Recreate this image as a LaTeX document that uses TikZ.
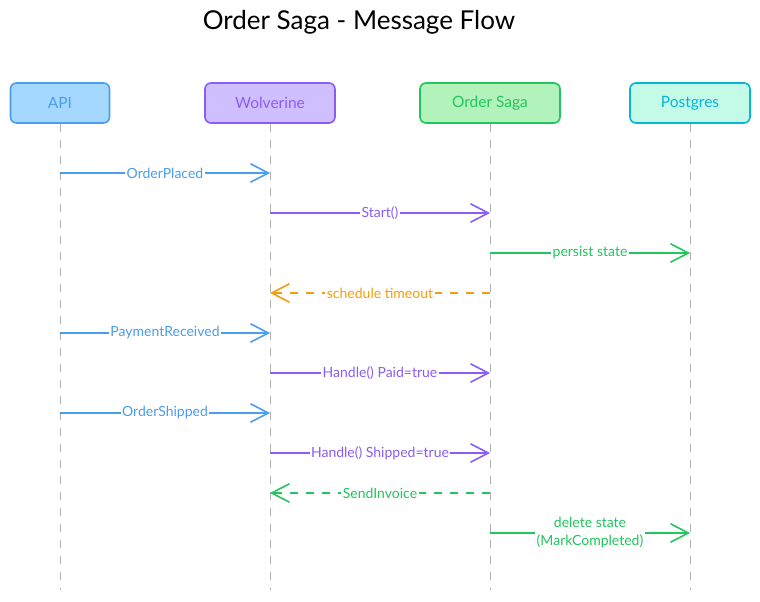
\documentclass[tikz,border=0pt]{standalone}
\usepackage{fontspec}
\setmainfont{Lato}
\usetikzlibrary{arrows.meta}
\definecolor{cblue}{HTML}{4A9EED}
\definecolor{fblue}{HTML}{A5D8FF}
\definecolor{cpurp}{HTML}{8B5CF6}
\definecolor{fpurp}{HTML}{D0BFFF}
\definecolor{cgreen}{HTML}{22C55E}
\definecolor{fgreen}{HTML}{B2F2BB}
\definecolor{ccyan}{HTML}{06B6D4}
\definecolor{fcyan}{HTML}{C3FAE8}
\definecolor{corange}{HTML}{F59E0B}
\definecolor{cgray}{HTML}{B0B0B0}
\tikzset{
  x=1pt,y=-1pt,
  actor/.style={draw=#1, line width=1.6pt, rounded corners=6pt, minimum height=40pt, font=\fontsize{15.5}{18}\selectfont, text=#1},
  life/.style={draw=cgray, line width=1pt, dash pattern=on 8pt off 8pt},
  msg/.style={draw=#1, line width=1.6pt, -{Straight Barb[angle=55:20pt,line width=1.6pt]}},
  ret/.style={msg=#1, dash pattern=on 8pt off 8pt},
  lbl/.style={fill=white, inner sep=1.5pt, font=\fontsize{14}{18}\selectfont, text=#1, align=center},
}
\begin{document}
\begin{tikzpicture}
\useasboundingbox (0,0) rectangle (760,602);
\node[font=\fontsize{26}{30}\selectfont] (title) at (359,22) {Order Saga - Message Flow};

\node[actor=cblue, fill=fblue, minimum width=99pt] (api) at (60,103) {API};
\node[actor=cpurp, fill=fpurp, minimum width=130pt] (wol) at (270,103) {Wolverine};
\node[actor=cgreen, fill=fgreen, minimum width=140pt] (saga) at (490,103) {Order Saga};
\node[actor=ccyan, fill=fcyan, minimum width=120pt] (pg) at (690,103) {Postgres};

\coordinate (apiE) at (60,590);
\coordinate (wolE) at (270,590);
\coordinate (sagaE) at (490,590);
\coordinate (pgE) at (690,590);
\draw[life] (api.south) -- (apiE);
\draw[life] (wol.south) -- (wolE);
\draw[life] (saga.south) -- (sagaE);
\draw[life] (pg.south) -- (pgE);

% message anchor coordinates
\foreach \n/\y in {1/173,2/213,3/253,4/293,5/333,6/373,7/413,8/453,9/493,10/533}{
  \coordinate (a\n) at (60,\y);
  \coordinate (w\n) at (270,\y);
  \coordinate (s\n) at (490,\y);
  \coordinate (p\n) at (690,\y);
}

\draw[msg=cblue] (a1) -- node[lbl=cblue] {OrderPlaced} (w1);
\draw[msg=cpurp] (w2) -- node[lbl=cpurp] {Start()} (s2);
\draw[msg=cgreen] (s3) -- node[lbl=cgreen] {persist state} (p3);
\draw[ret=corange] (s4) -- node[lbl=corange] {schedule timeout} (w4);
\draw[msg=cblue] (a5) -- node[lbl=cblue] {PaymentReceived} (w5);
\draw[msg=cpurp] (w6) -- node[lbl=cpurp] {Handle() Paid=true} (s6);
\draw[msg=cblue] (a7) -- node[lbl=cblue] {OrderShipped} (w7);
\draw[msg=cpurp] (w8) -- node[lbl=cpurp] {Handle() Shipped=true} (s8);
\draw[ret=cgreen] (s9) -- node[lbl=cgreen] {SendInvoice} (w9);
\draw[msg=cgreen] (s10) -- node[lbl=cgreen, yshift=0pt] {delete state\\(MarkCompleted)} (p10);
\end{tikzpicture}
\end{document}
